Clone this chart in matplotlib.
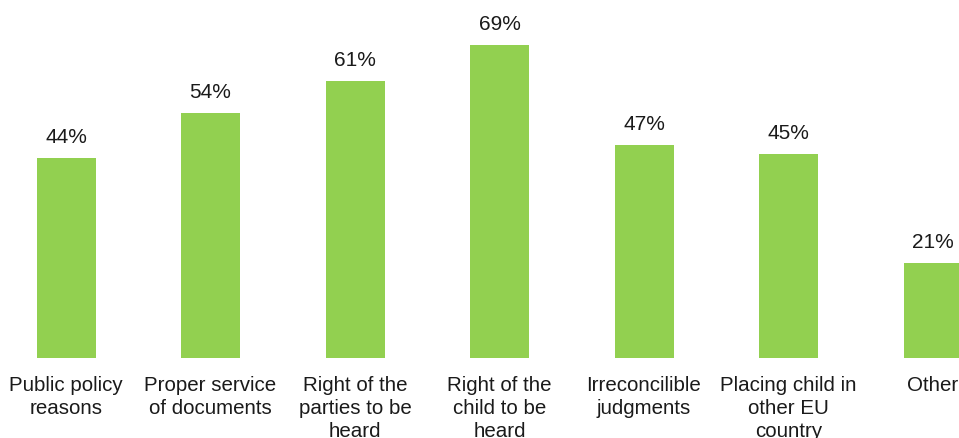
import matplotlib
matplotlib.use("Agg")
import matplotlib.pyplot as plt

plt.rcParams['font.family'] = ['Liberation Sans', 'DejaVu Sans']

categories = [
    "Public policy\nreasons",
    "Proper service\nof documents",
    "Right of the\nparties to be\nheard",
    "Right of the\nchild to be\nheard",
    "Irreconcilible\njudgments",
    "Placing child in\nother EU\ncountry",
    "Other",
]
values = [44, 54, 61, 69, 47, 45, 21]

W, H = 959, 439
fig = plt.figure(figsize=(W / 100, H / 100), dpi=100)

base_px = 359          # baseline row, from top
px_per_pct = 4.54
step_px = 144.5
first_px = 66

ax = fig.add_axes([0, (H - base_px) / H, 1, base_px / H])
ax.set_xlim(-first_px / step_px, (W - first_px) / step_px)
ax.set_ylim(0, base_px / px_per_pct)

x = list(range(len(values)))
bars = ax.bar(x, values, width=59 / step_px, color="#92D050", zorder=2)
ax.bar_label(bars, labels=[f"{v}%" for v in values], padding=8.5,
             fontsize=15, color="#1a1a1a")

ax.set_xticks(x)
ax.set_xticklabels(categories, fontsize=14.8, color="#1a1a1a", linespacing=1.25)
ax.tick_params(axis="x", length=0, pad=12.6)
ax.set_yticks([])
for s in ax.spines.values():
    s.set_visible(False)

fig.savefig("out.png", dpi=100)
